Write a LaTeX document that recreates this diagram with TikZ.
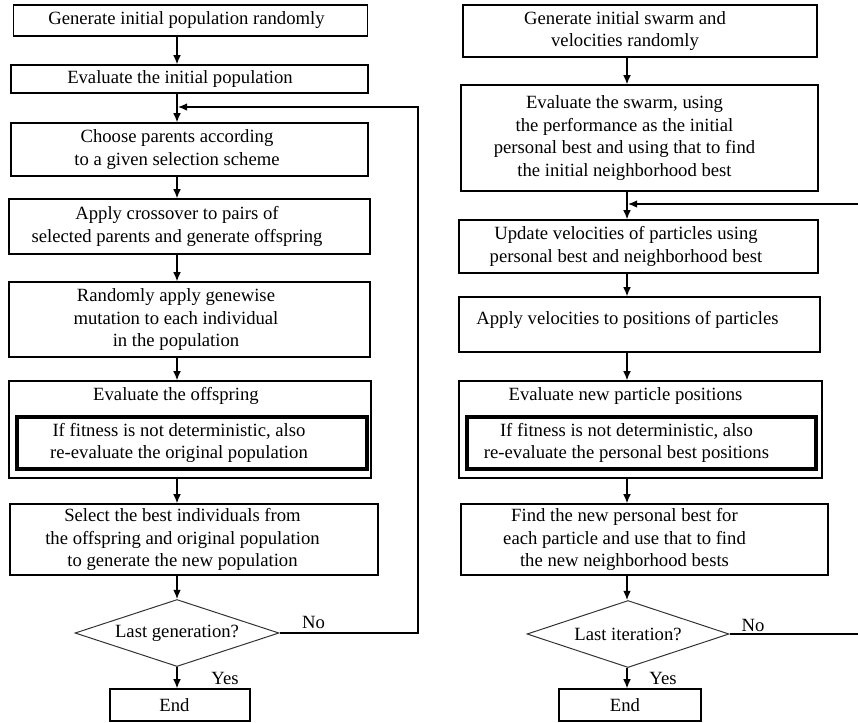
\documentclass[tikz,border=0pt]{standalone}
\usepackage{fontspec}
\setmainfont{Liberation Serif}
\usepackage{tikz}
\usetikzlibrary{arrows}
\usetikzlibrary{arrows.meta}
\usetikzlibrary{shapes.geometric}

\tikzset{
  stepbox/.style 2 args={draw, line width=0.8pt, minimum width=#1*0.6pt, minimum height=#2*0.6pt, inner sep=0pt},
  innerbox/.style 2 args={draw, line width=2pt, minimum width=#1*0.6pt, minimum height=#2*0.6pt, inner sep=0pt},
  decide/.style={draw=black!80, diamond, aspect=3, line width=0.6pt, minimum width=#1*0.6pt, minimum height=67*0.6pt, inner sep=0pt},
  flow/.style={-{Latex[length=5.5pt, width=4.6pt]}, line width=0.8pt}
}

\begin{document}
\begin{tikzpicture}[x=0.6pt, y=-0.6pt, font=\fontsize{11.2}{13.6}\selectfont]
      \useasboundingbox (0,0) rectangle (858,722);
      % Genetischer Algorithmus (links)
      \node[stepbox={354}{31}, label={[xshift=-2.4pt]center:Generate initial population randomly}] (gen) at (190.5,20.5) {};
      \node[stepbox={357}{28}, label={[xshift=-5.7pt]center:Evaluate the initial population}] (evalinit) at (189.5,79) {};
      \node[stepbox={357}{53}, label={[align=center, xshift=-7.5pt]center:{Choose parents according\\to a given selection scheme}}] (choose) at (189.5,149.5) {};
      \node[stepbox={361}{55}, label={[align=center, xshift=-7.5pt]center:{Apply crossover to pairs of\\selected parents and generate offspring}}] (cross) at (189.5,226.5) {};
      \node[stepbox={361}{75}, label={[align=center, xshift=-8.1pt]center:{Randomly apply genewise\\mutation to each individual\\in the population}}] (mutate) at (189.5,319.5) {};
      \node[stepbox={362}{97}, label={[anchor=center, xshift=-8.4pt, yshift=-9.6pt]north:Evaluate the offspring}] (evaloff) at (190,429.5) {};
      \node[innerbox={350}{52}, label={[align=center, xshift=-7.8pt]center:{If fitness is not deterministic, also\\re-evaluate the original population}}] (evaloffin) at (192,443) {};
      \node[stepbox={368}{71}, label={[align=center, xshift=-6.9pt]center:{Select the best individuals from\\the offspring and original population\\to generate the new population}}] (select) at (194,539.5) {};
      \node[decide=204] (lastgen) at (177,633) {Last generation?};
      \node[stepbox={140}{32}, label={[xshift=-3.3pt]center:End}] (endL) at (180,705) {};
      \node (noL) at (313.5,622) {No};
      \node (yesL) at (225,678) {Yes};

      % Partikelschwarm (rechts)
      \node[stepbox={354}{52}, label={[align=center, xshift=-9pt]center:{Generate initial swarm and\\velocities randomly}}] (swarm) at (640,31) {};
      \node[stepbox={357}{106}, label={[align=center, xshift=-9pt]center:{Evaluate the swarm, using\\the performance as the initial\\personal best and using that to find\\the initial neighborhood best}}] (evalswarm) at (639.5,138) {};
      \node[stepbox={359}{53}, label={[align=center, xshift=-7.5pt]center:{Update velocities of particles using\\personal best and neighborhood best}}] (update) at (638.5,246.5) {};
      \node[stepbox={361}{55}, label={[xshift=-7.2pt, yshift=2.7pt]center:Apply velocities to positions of particles}] (apply) at (639.5,324.5) {};
      \node[stepbox={363}{97}, label={[anchor=center, xshift=-9pt, yshift=-9.6pt]north:Evaluate new particle positions}] (evalpos) at (640.5,429.5) {};
      \node[innerbox={349}{52}, label={[align=center, xshift=-9pt]center:{If fitness is not deterministic, also\\re-evaluate the personal best positions}}] (evalposin) at (641.5,443) {};
      \node[stepbox={367}{71}, label={[align=center, xshift=-12pt]center:{Find the new personal best for\\each particle and use that to find\\the new neighborhood bests}}] (find) at (644.5,539.5) {};
      \node[decide=202] (lastit) at (628,634) {Last iteration?};
      \node[stepbox={142}{32}, label={[xshift=-3pt]center:End}] (endR) at (630,705) {};
      \node (noR) at (753,625) {No};
      \node (yesR) at (663,678) {Yes};

      % Pfeile
      \coordinate (lcol) at (177,0);
      \coordinate (rcol) at (627,0);
      \foreach \a/\b in {gen/evalinit,evalinit/choose,choose/cross,cross/mutate,mutate/evaloff,evaloff/select,select/lastgen,lastgen/endL}
      \draw[flow] (\a.south -| lcol) -- (\b.north -| lcol);
      \foreach \a/\b in {swarm/evalswarm,evalswarm/update,update/apply,apply/evalpos,evalpos/find,find/lastit,lastit/endR}
      \draw[flow] (\a.south -| rcol) -- (\b.north -| rcol);

      % Rueckspruenge
      \coordinate (lloop) at (418,107);
      \coordinate (ljoin) at (178,107);
      \draw[flow] (lastgen.east) -| (lloop) -- (ljoin);
      \coordinate (rloop) at (862,204);
      \coordinate (rjoin) at (628,204);
      \draw[flow] (lastit.east) -| (rloop) -- (rjoin);
\end{tikzpicture}
\end{document}
